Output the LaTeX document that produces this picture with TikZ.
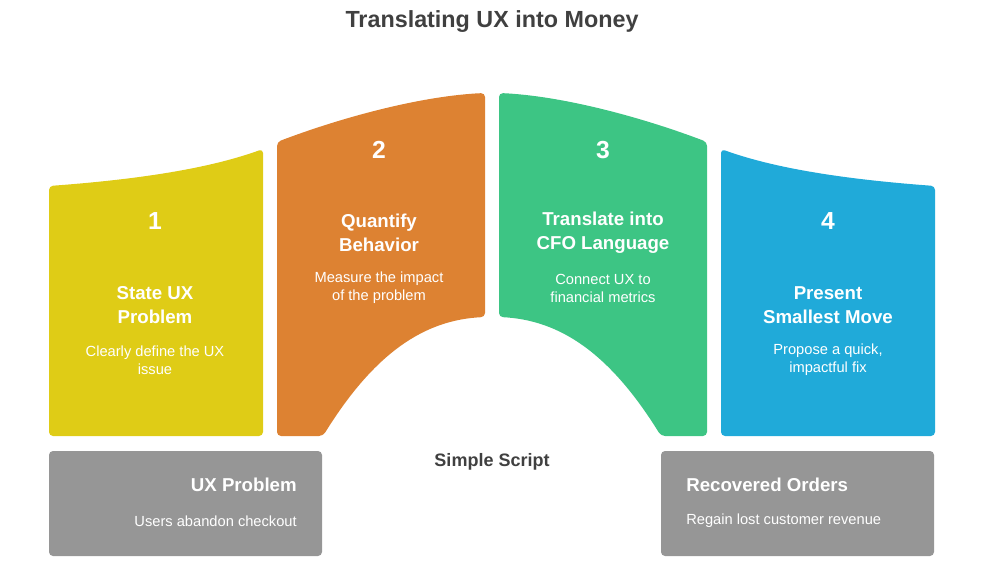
\documentclass[tikz,border=0pt]{standalone}
\usepackage{fontspec}
\setmainfont{Liberation Sans}
\definecolor{cyel}{HTML}{DFCC16}
\definecolor{cora}{HTML}{DD8232}
\definecolor{cgre}{HTML}{3DC584}
\definecolor{cblu}{HTML}{20AAD9}
\definecolor{cgry}{HTML}{969696}
\definecolor{ctit}{HTML}{404040}
\begin{document}
\begin{tikzpicture}[x=0.75pt,y=-0.75pt,
  num/.style={text=white,font=\fontsize{18.5}{20}\selectfont\bfseries},
  head/.style={text=white,align=center,font=\fontsize{14}{18}\selectfont\bfseries},
  desc/.style={text=white,align=center,font=\fontsize{11}{13.5}\selectfont},
  ghead/.style={text=white,inner sep=0pt,font=\fontsize{14}{16}\selectfont\bfseries},
  gdesc/.style={text=white,inner sep=0pt,font=\fontsize{11}{13}\selectfont},
  panel/.style={rounded corners=3pt}]
\useasboundingbox (0,0) rectangle (984,573);
% title
\node[text=ctit,font=\fontsize{17.5}{20}\selectfont\bfseries] (title) at (492,22) {Translating UX into Money};
% shapes
\fill[cyel,panel] (49,436) -- (49,186) .. controls (130,180) and (205,170) .. (263,149) -- (263,436) -- cycle;
\fill[cora,panel] (277,436) -- (277,142) .. controls (340,118) and (420,96) .. (485,93) -- (485,317) .. controls (425,320) and (375,352) .. (323,436) -- cycle;
\fill[cgre,panel] (707,436) -- (707,142) .. controls (644,118) and (564,96) .. (499,93) -- (499,317) .. controls (559,320) and (609,352) .. (661,436) -- cycle;
\fill[cblu,panel] (935,436) -- (935,186) .. controls (854,180) and (779,170) .. (721,149) -- (721,436) -- cycle;
% texts
\node[num] (n1) at (155,221) {1};
\node[head] (h1) at (155,305) {State UX\\Problem};
\node[desc] (d1) at (155,360) {Clearly define the UX\\issue};
\node[num] (n2) at (379,150) {2};
\node[head] (h2) at (379,233) {Quantify\\Behavior};
\node[desc] (d2) at (379,288) {Measure the impact\\of the problem};
\node[num] (n3) at (603,150) {3};
\node[head] (h3) at (603,233) {Translate into\\CFO Language};
\node[desc] (d3) at (603,288) {Connect UX to\\financial metrics};
\node[num] (n4) at (828,221) {4};
\node[head] (h4) at (828,305) {Present\\Smallest Move};
\node[desc] (d4) at (828,360) {Propose a quick,\\impactful fix};
% simple script
\node[text=ctit,font=\fontsize{13.5}{16}\selectfont\bfseries] (ss) at (492,462) {Simple Script};
% bottom boxes
\fill[cgry,panel] (49,451) rectangle (322,556);
\fill[cgry,panel] (661,451) rectangle (934,556);
\node[ghead,anchor=east] (g1) at (297,485) {UX Problem};
\node[gdesc,anchor=east] (g1d) at (297,521) {Users abandon checkout};
\node[ghead,anchor=west] (g2) at (686,485) {Recovered Orders};
\node[gdesc,anchor=west] (g2d) at (686,521) {Regain lost customer revenue};
\end{tikzpicture}
\end{document}
